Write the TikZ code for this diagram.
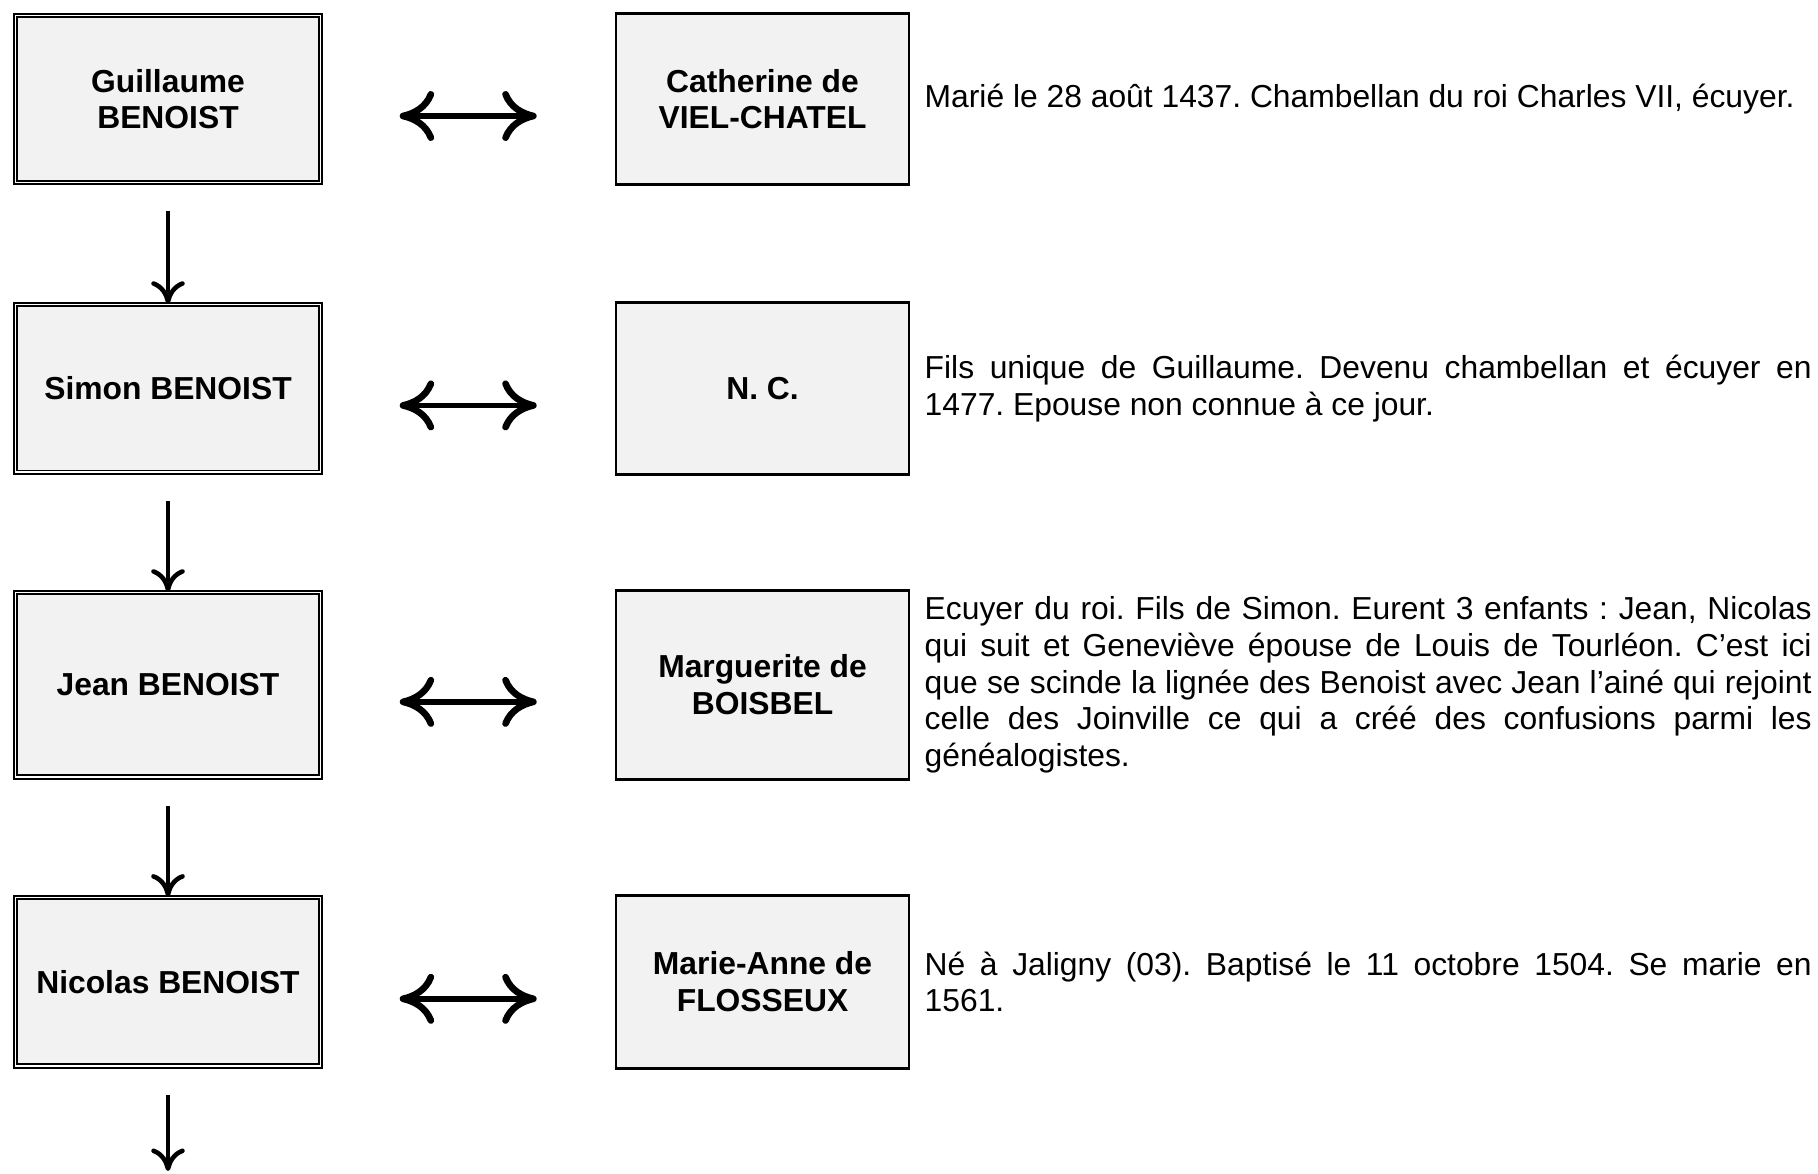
\documentclass[tikz,border=0pt]{standalone}
\usepackage{fontspec}
\setmainfont{Liberation Sans}
\usepackage{xcolor}
\usetikzlibrary{arrows.meta, positioning}
\definecolor{boxgray}{HTML}{F2F2F2}
\frenchspacing

\begin{document}
\begin{tikzpicture}[
  font=\fontsize{18.1}{20.8}\selectfont,
  person/.style={rectangle, draw, line width=1.1pt, double, double distance=0.8pt, fill=boxgray, minimum width=6.11cm, align=center, font=\fontsize{18.1}{20.8}\selectfont\bfseries},
  spouse/.style={rectangle, draw, line width=1.5pt, fill=boxgray, minimum width=5.86cm, align=center, font=\fontsize{18.1}{20.8}\selectfont\bfseries},
  note/.style={anchor=west, inner sep=0pt, text width=17.74cm, align=justify},
  down/.style={-{Computer Modern Rightarrow[length=0.45cm, width=0.67cm, line width=2.6pt]}, line width=2.2pt, shorten <=0.56cm},
  union/.style={{Computer Modern Rightarrow[length=0.69cm, width=1.0cm, line width=3.8pt]}-{Computer Modern Rightarrow[length=0.69cm, width=1.0cm, line width=3.8pt]}, line width=3.2pt, shorten <=1.56cm, shorten >=1.56cm}
]
\useasboundingbox (0,0) rectangle (36.36,-23.46);

\node[person, minimum height=3.33cm] (guillaume) at (3.36,-1.98) {Guillaume\\BENOIST};
\node[person, minimum height=3.35cm, below=2.41cm of guillaume] (simon) {Simon BENOIST};
\node[person, minimum height=3.69cm, below=2.37cm of simon] (jean) {Jean BENOIST};
\node[person, minimum height=3.37cm, below=2.37cm of jean] (nicolas) {Nicolas BENOIST};

\node[spouse, minimum height=3.42cm, right=5.86cm of guillaume] (catherine) {Catherine de\\VIEL-CHATEL};
\node[spouse, minimum height=3.44cm, right=5.86cm of simon] (nc) {N. C.};
\node[spouse, minimum height=3.78cm, right=5.86cm of jean] (marguerite) {Marguerite de\\BOISBEL};
\node[spouse, minimum height=3.46cm, right=5.86cm of nicolas] (marieanne) {Marie-Anne de\\FLOSSEUX};

\node[note, right=0.28cm of catherine] (noteguillaume) {Marié le 28 août 1437. Chambellan du roi Charles VII, écuyer.};
\node[note, right=0.28cm of nc] (notesimon) {Fils unique de Guillaume. Devenu chambellan et écuyer en\linebreak 1477. Epouse non connue à ce jour.};
\node[note, right=0.28cm of marguerite] (notejean) {Ecuyer du roi. Fils de Simon. Eurent 3 enfants : Jean, Nicolas\linebreak qui suit et Geneviève épouse de Louis de Tourléon. C’est ici\linebreak que se scinde la lignée des Benoist avec Jean l’ainé qui rejoint\linebreak celle des Joinville ce qui a créé des confusions parmi les\linebreak généalogistes.};
\node[note, right=0.28cm of marieanne] (notenicolas) {Né à Jaligny (03). Baptisé le 11 octobre 1504. Se marie en\linebreak 1561.};

\coordinate (next) at (3.36,-23.42);

\draw[down] (guillaume) -- (simon);
\draw[down] (simon) -- (jean);
\draw[down] (jean) -- (nicolas);
\draw[down] (nicolas) -- (next);

\draw[union] ([yshift=-0.34cm]guillaume.east) -- ([yshift=-0.34cm]catherine.west);
\draw[union] ([yshift=-0.34cm]simon.east) -- ([yshift=-0.34cm]nc.west);
\draw[union] ([yshift=-0.34cm]jean.east) -- ([yshift=-0.34cm]marguerite.west);
\draw[union] ([yshift=-0.34cm]nicolas.east) -- ([yshift=-0.34cm]marieanne.west);
\end{tikzpicture}
\end{document}
